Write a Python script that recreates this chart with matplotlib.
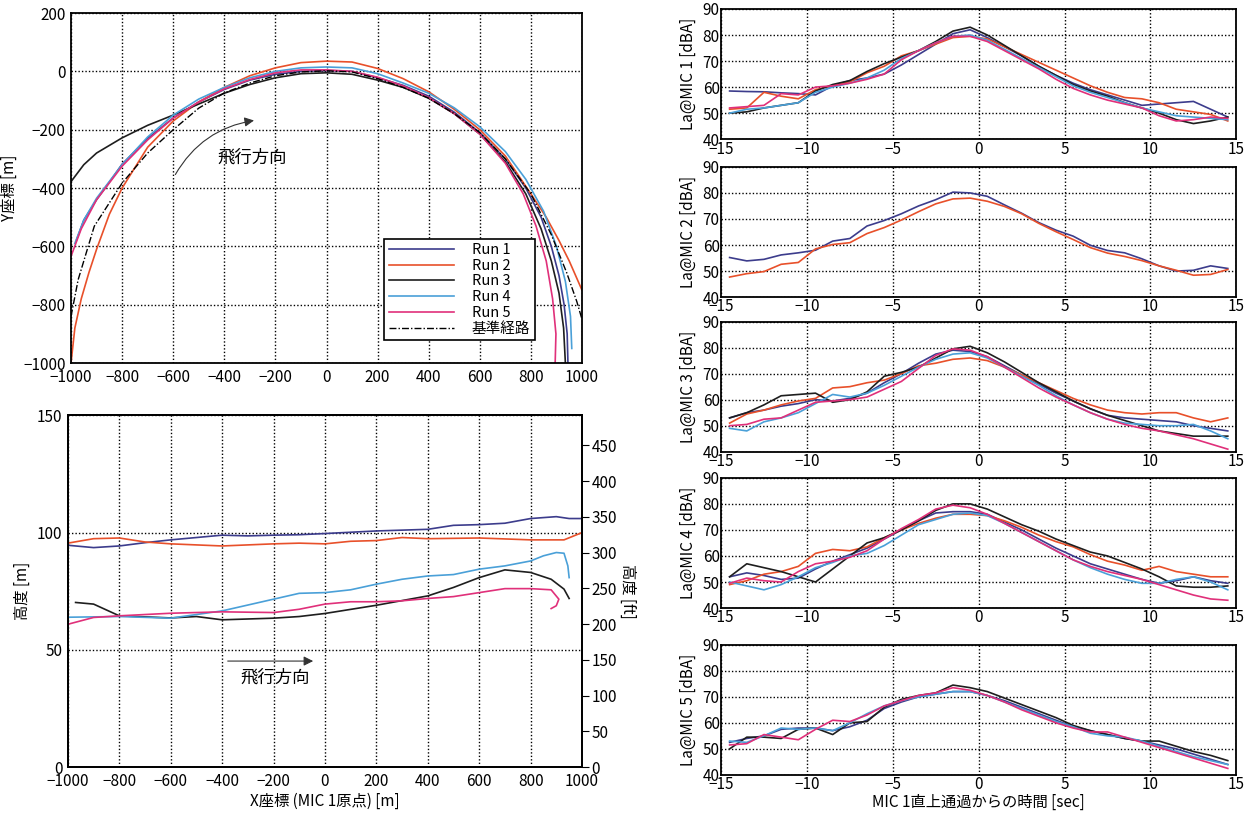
import matplotlib.pyplot as plt
import numpy as np

plt.rcParams['font.family'] = ['Noto Sans CJK JP', 'DejaVu Sans']
plt.rcParams['font.size'] = 11

RUN_LABELS = ["Run 1", "Run 2", "Run 3", "Run 4", "Run 5"]
RUN_COLORS = ["#3c3c8c", "#e8502a", "#1e1e1e", "#4aa0d8", "#e0307a"]

# ---- ground track (x, y) [m] ----
track_x = {
    1: [-978, -950, -900, -850, -800, -700, -600, -500, -400, -300, -200, -100, 0, 100, 200, 300, 400, 500, 600, 700, 780, 840, 880, 910, 930, 942, 945],
    2: [-1000, -985, -960, -930, -900, -850, -800, -700, -600, -500, -400, -300, -200, -100, 0, 100, 200, 300, 400, 500, 600, 700, 800, 860, 910, 950, 980, 1000],
    3: [-1000, -950, -900, -800, -700, -600, -500, -400, -300, -200, -100, 0, 100, 200, 300, 400, 500, 600, 700, 780, 840, 880, 910, 928, 935],
    4: [-985, -950, -900, -800, -700, -600, -500, -400, -300, -200, -100, 0, 100, 200, 300, 400, 500, 600, 700, 780, 850, 900, 935, 955, 960],
    5: [-1000, -960, -900, -800, -700, -600, -500, -400, -300, -200, -100, 0, 100, 200, 300, 400, 500, 600, 700, 770, 820, 860, 885, 898, 895],
}
track_y = {
    1: [-577, -510, -440, -380, -318, -230, -160, -105, -62, -30, -10, 0, 3, 0, -22, -48, -85, -140, -210, -300, -400, -500, -600, -700, -800, -900, -1000],
    2: [-1000, -880, -780, -690, -610, -490, -400, -260, -170, -105, -55, -15, 12, 30, 35, 32, 10, -25, -70, -130, -200, -290, -420, -500, -580, -650, -710, -750],
    3: [-378, -320, -280, -228, -185, -150, -112, -75, -45, -22, -8, -5, -10, -30, -55, -92, -145, -215, -310, -420, -540, -650, -760, -880, -1000],
    4: [-590, -510, -435, -320, -225, -150, -95, -55, -22, 0, 12, 15, 12, -8, -40, -75, -125, -190, -275, -370, -480, -600, -720, -840, -950],
    5: [-634, -540, -440, -325, -235, -160, -105, -60, -28, -5, 5, 5, 0, -20, -50, -90, -145, -215, -315, -420, -530, -650, -780, -900, -1000],
}
ref_x = [-1000, -972, -909, -800, -700, -600, -500, -400, -300, -200, -100, 0, 100, 200, 300, 400, 500, 600, 700, 800, 880, 940, 980, 1000]
ref_y = [-840, -714, -531, -383, -280, -200, -126, -74, -40, -15, -2, 2, -2, -25, -55, -92, -145, -210, -300, -420, -560, -690, -790, -850]

# ---- altitude profile [m] ----
alt_x = {
    1: [-1000, -900, -800, -700, -600, -500, -400, -300, -200, -100, 0, 200, 400, 500, 600, 700, 800, 900, 950, 1000],
    2: [-1000, -900, -800, -700, -600, -400, -200, -100, 0, 100, 200, 300, 400, 600, 800, 930, 1000],
    3: [-970, -900, -800, -600, -500, -400, -200, -100, 0, 200, 400, 500, 600, 700, 800, 880, 930, 950],
    4: [-1000, -800, -600, -400, -200, -100, 0, 100, 200, 300, 400, 500, 600, 700, 800, 850, 900, 930, 945, 950],
    5: [-1000, -900, -800, -600, -400, -200, -100, 0, 100, 200, 300, 400, 500, 600, 700, 800, 880, 910, 900, 880],
}
alt_y = {
    1: [94.6, 93.6, 94.3, 95.7, 96.9, 97.9, 98.9, 98.6, 98.9, 99.1, 99.6, 100.7, 101.4, 103.1, 103.4, 104.0, 106.0, 106.8, 106.0, 106.0],
    2: [95.5, 97.4, 97.7, 96.0, 95.2, 94.3, 95.2, 95.5, 95.2, 96.3, 96.6, 97.9, 97.4, 97.7, 96.9, 96.9, 100.0],
    3: [70.2, 69.5, 64.5, 63.6, 64.2, 62.8, 63.5, 64.2, 65.5, 69.0, 73.0, 76.6, 80.8, 84.1, 83.0, 80.1, 75.9, 71.9],
    4: [63.9, 64.2, 63.5, 66.6, 71.6, 74.1, 74.4, 75.6, 78.0, 80.1, 81.5, 82.1, 84.4, 85.8, 87.9, 90.1, 91.5, 91.2, 85.8, 80.8],
    5: [60.9, 63.8, 64.5, 65.6, 66.2, 65.9, 67.3, 69.5, 70.5, 70.5, 70.9, 71.9, 72.7, 74.4, 76.1, 76.1, 75.6, 71.6, 68.8, 67.6],
}

# ---- noise level La [dBA] vs time from MIC 1 overflight [sec] ----
TIME = [-14.5, -13.5, -12.5, -11.5, -10.5, -9.5, -8.5, -7.5, -6.5, -5.5, -4.5, -3.5, -2.5, -1.5, -0.5,
        0.5, 1.5, 2.5, 3.5, 4.5, 5.5, 6.5, 7.5, 8.5, 9.5, 10.5, 11.5, 12.5, 13.5, 14.5]

mic1 = {
    1: [58.5, 58.3, 58.2, 57.8, 57.5, 57.0, 60.5, 62.5, 63.5, 65.0, 68.5, 72.5, 76.5, 80.5, 82.0, 79.0, 75.5, 72.0, 68.0, 64.5, 61.5, 59.0, 57.0, 55.0, 53.0, 53.5, 54.0, 54.5, 51.5, 48.5],
    2: [51.5, 52.0, 58.0, 56.5, 55.5, 59.0, 60.5, 62.0, 65.5, 68.0, 72.0, 74.0, 76.5, 79.0, 79.5, 78.5, 75.5, 72.5, 69.5, 66.5, 63.5, 60.5, 58.0, 56.0, 55.5, 54.0, 51.5, 50.5, 49.5, 47.0],
    3: [50.0, 50.5, 52.0, 53.0, 54.0, 58.5, 61.0, 62.5, 66.0, 69.0, 71.5, 74.0, 77.5, 81.5, 83.0, 80.0, 76.0, 72.0, 68.0, 64.5, 61.0, 58.5, 56.5, 54.0, 52.0, 50.0, 47.5, 46.0, 47.0, 48.5],
    4: [50.0, 51.5, 52.0, 53.0, 54.0, 58.0, 60.0, 61.5, 63.5, 66.5, 71.0, 74.0, 77.0, 79.5, 80.0, 78.0, 74.5, 71.0, 67.5, 64.0, 60.5, 58.0, 56.0, 54.0, 52.0, 50.5, 49.0, 48.5, 48.0, 47.5],
    5: [52.0, 52.5, 53.0, 57.5, 57.0, 60.0, 60.5, 61.5, 63.0, 65.0, 70.5, 74.0, 77.0, 79.5, 79.5, 77.5, 74.0, 70.5, 67.0, 63.0, 59.5, 57.0, 55.0, 53.5, 52.0, 49.0, 47.0, 47.5, 48.5, 48.0],
}
mic2 = {
    1: [55.2, 53.9, 54.5, 56.2, 57.0, 58.0, 61.5, 62.5, 67.3, 69.4, 72.0, 75.0, 77.4, 80.3, 80.0, 78.7, 75.4, 72.2, 68.6, 65.7, 63.4, 59.9, 57.9, 57.0, 54.7, 52.0, 50.0, 50.3, 52.0, 51.0],
    2: [47.7, 49.0, 49.8, 52.6, 53.3, 58.5, 60.2, 60.9, 64.4, 66.7, 69.6, 72.8, 75.8, 77.7, 78.0, 76.8, 74.8, 72.0, 68.3, 65.1, 62.1, 59.0, 56.9, 55.6, 54.0, 52.0, 50.3, 48.4, 48.7, 50.6],
}
mic3 = {
    1: [53.0, 55.0, 56.0, 57.5, 58.5, 60.0, 59.5, 60.5, 62.5, 66.5, 70.0, 74.0, 77.5, 79.0, 78.5, 76.5, 73.0, 69.5, 66.0, 62.5, 59.5, 56.5, 54.0, 53.0, 52.5, 52.0, 51.5, 50.0, 49.0, 48.0],
    2: [51.0, 54.5, 56.0, 58.0, 59.5, 60.5, 64.5, 65.0, 66.5, 67.5, 70.0, 73.0, 74.0, 75.5, 76.0, 75.0, 72.5, 69.5, 66.5, 63.5, 60.5, 58.0, 56.0, 55.0, 54.5, 55.0, 55.0, 53.0, 51.5, 53.0],
    3: [53.0, 55.0, 58.0, 61.5, 62.0, 62.5, 59.0, 60.0, 63.0, 69.0, 70.5, 72.5, 76.0, 79.5, 80.5, 78.0, 74.5, 70.5, 66.5, 63.0, 59.5, 56.5, 54.0, 52.0, 50.0, 48.0, 47.0, 46.0, 46.0, 46.0],
    4: [49.0, 48.0, 51.5, 53.0, 55.0, 58.5, 62.0, 61.0, 62.5, 65.5, 69.0, 72.5, 75.5, 77.5, 78.0, 76.0, 72.5, 69.0, 65.5, 61.5, 58.0, 55.0, 52.5, 51.0, 50.5, 50.0, 50.0, 50.5, 48.0, 45.0],
    5: [50.0, 50.5, 52.5, 53.0, 56.0, 59.0, 59.5, 60.0, 61.0, 64.0, 67.0, 72.0, 77.0, 79.5, 79.0, 76.5, 72.5, 68.5, 64.5, 61.0, 58.0, 55.0, 52.5, 50.5, 49.0, 48.0, 46.5, 45.0, 43.0, 41.0],
}
mic4 = {
    1: [52.0, 53.5, 52.5, 51.0, 51.5, 55.0, 58.0, 60.5, 63.0, 66.5, 70.0, 73.5, 76.5, 77.0, 77.0, 76.0, 73.0, 70.0, 66.5, 63.0, 60.0, 57.0, 55.0, 53.0, 51.0, 49.5, 50.5, 52.0, 50.5, 49.5],
    2: [49.0, 50.5, 53.0, 54.0, 56.0, 61.0, 62.5, 62.0, 63.5, 67.0, 70.0, 72.5, 74.5, 76.0, 76.0, 75.5, 73.5, 71.0, 68.0, 65.5, 63.5, 60.5, 58.0, 56.5, 54.5, 56.0, 54.0, 53.0, 52.0, 52.0],
    3: [52.0, 57.0, 55.5, 54.0, 52.0, 50.0, 55.0, 60.0, 65.0, 67.0, 70.0, 73.5, 77.5, 80.0, 80.0, 78.0, 75.0, 72.0, 69.5, 66.5, 64.0, 61.5, 60.0, 57.5, 55.0, 52.0, 48.5, 48.0, 48.0, 48.5],
    4: [50.0, 48.5, 47.0, 49.0, 52.0, 55.5, 57.5, 60.0, 61.0, 64.0, 68.0, 72.0, 74.0, 76.0, 76.5, 75.5, 72.5, 69.0, 65.5, 62.0, 58.5, 55.5, 53.0, 51.0, 49.5, 49.5, 51.0, 52.0, 50.0, 47.0],
    5: [49.5, 51.5, 50.5, 50.0, 54.0, 57.0, 58.0, 59.5, 62.0, 66.5, 70.5, 74.0, 78.0, 79.5, 78.5, 76.0, 72.5, 69.0, 65.5, 62.0, 58.5, 56.0, 54.0, 52.5, 51.0, 49.0, 47.0, 45.0, 43.5, 43.0],
}
mic5 = {
    1: [52.5, 54.0, 55.0, 57.5, 58.0, 58.0, 57.0, 58.5, 61.0, 65.5, 68.0, 70.0, 71.0, 72.0, 72.0, 70.5, 68.5, 66.0, 63.5, 61.0, 58.5, 57.0, 55.5, 54.0, 53.0, 51.5, 50.0, 48.0, 46.0, 44.0],
    3: [50.0, 54.5, 54.5, 54.0, 57.5, 58.0, 55.5, 60.0, 60.5, 66.0, 69.0, 70.5, 71.5, 74.5, 73.5, 72.0, 69.5, 67.0, 64.5, 62.0, 59.0, 57.0, 55.5, 54.0, 53.0, 53.0, 51.0, 49.0, 47.5, 45.5],
    4: [53.0, 52.5, 55.0, 58.0, 57.5, 58.0, 57.0, 60.0, 63.5, 66.5, 68.5, 70.0, 71.0, 72.0, 72.0, 70.5, 68.0, 65.5, 63.0, 60.5, 58.5, 56.0, 55.0, 54.5, 53.0, 51.0, 49.0, 47.0, 45.5, 44.0],
    5: [51.5, 52.0, 55.5, 54.5, 53.5, 57.5, 61.0, 60.5, 63.0, 66.5, 68.5, 70.5, 71.5, 73.5, 72.5, 70.5, 68.0, 65.0, 62.5, 60.0, 58.0, 56.5, 56.5, 54.5, 52.5, 50.5, 48.5, 46.5, 44.5, 42.5],
}
MICS = [mic1, mic2, mic3, mic4, mic5]

GRID = dict(color="black", linestyle=(0, (1, 1.5)), linewidth=1.0)
LW = 1.2

fig = plt.figure(figsize=(12.57, 8.14), dpi=100)
fig.patch.set_facecolor("white")

# ---- top left: ground track ----
ax1 = fig.add_axes([0.0565, 0.554, 0.4065, 0.430])
for r in range(1, 6):
    ax1.plot(track_x[r], track_y[r], color=RUN_COLORS[r - 1], lw=LW, label=RUN_LABELS[r - 1])
ax1.plot(ref_x, ref_y, color="black", lw=1.0, linestyle=(0, (5, 1.5, 1, 1.5)), label="基準経路")
ax1.set_xlim(-1000, 1000)
ax1.set_ylim(-1000, 200)
ax1.set_xticks(np.arange(-1000, 1001, 200))
ax1.set_yticks(np.arange(-1000, 201, 200))
ax1.grid(True, **GRID)
ax1.tick_params(length=0, pad=4)
ax1.set_ylabel("Y座標 [m]")
ax1.annotate("", xy=(-273, -167), xytext=(-597, -362),
             arrowprops=dict(arrowstyle="-|>", color="#333333", lw=0.8,
                             connectionstyle="arc3,rad=-0.25", mutation_scale=14))
ax1.text(-290, -294, "飛行方向", ha="center", va="center", fontsize=12.5)
leg = ax1.legend(loc="lower left", bbox_to_anchor=(0.599, 0.045), fancybox=False,
                 edgecolor="black", framealpha=1, handlelength=4.5, handletextpad=1.2,
                 labelspacing=0.12, borderpad=0.3, fontsize=10.5)
leg.get_frame().set_linewidth(1.2)

# ---- bottom left: altitude ----
ax2 = fig.add_axes([0.054, 0.0577, 0.409, 0.432])
for r in range(1, 6):
    ax2.plot(alt_x[r], alt_y[r], color=RUN_COLORS[r - 1], lw=LW)
ax2.set_xlim(-1000, 1000)
ax2.set_ylim(0, 150)
ax2.set_xticks(np.arange(-1000, 1001, 200))
ax2.set_yticks([0, 50, 100, 150])
ax2.grid(True, **GRID)
ax2.tick_params(length=0, pad=4)
ax2.set_ylabel("高度 [m]")
ax2.set_xlabel("X座標 (MIC 1原点) [m]", labelpad=2)
ax2.annotate("", xy=(-35, 45.2), xytext=(-389, 45.2),
             arrowprops=dict(arrowstyle="-|>", color="#333333", lw=0.8, mutation_scale=14))
ax2.text(-195, 38, "飛行方向", ha="center", va="center", fontsize=12.5)
ax2r = ax2.twinx()
ax2r.set_ylim(0, 150 * 3.2808)
ax2r.set_yticks(np.arange(0, 451, 50))
ax2r.tick_params(direction="out", length=5, pad=2)
ax2r.set_ylabel("高度 [ft]", rotation=270, labelpad=14)

# ---- right: noise levels ----
bottoms = [0.829, 0.635, 0.445, 0.253, 0.048]
for i, (mic, b) in enumerate(zip(MICS, bottoms)):
    ax = fig.add_axes([0.5736, b, 0.41, 0.16])
    for r, vals in mic.items():
        ax.plot(TIME, vals, color=RUN_COLORS[r - 1], lw=LW)
    ax.set_xlim(-15, 15)
    ax.set_ylim(40, 90)
    ax.set_xticks(np.arange(-15, 16, 5))
    ax.set_yticks(np.arange(40, 91, 10))
    ax.grid(True, **GRID)
    ax.tick_params(length=0, pad=1)
    ax.set_ylabel(f"La@MIC {i + 1} [dBA]")
    if i == 4:
        ax.set_xlabel("MIC 1直上通過からの時間 [sec]", labelpad=0)

for a in fig.axes:
    for s in a.spines.values():
        s.set_linewidth(1.3)

plt.savefig("out.png", dpi=100, facecolor="white")
